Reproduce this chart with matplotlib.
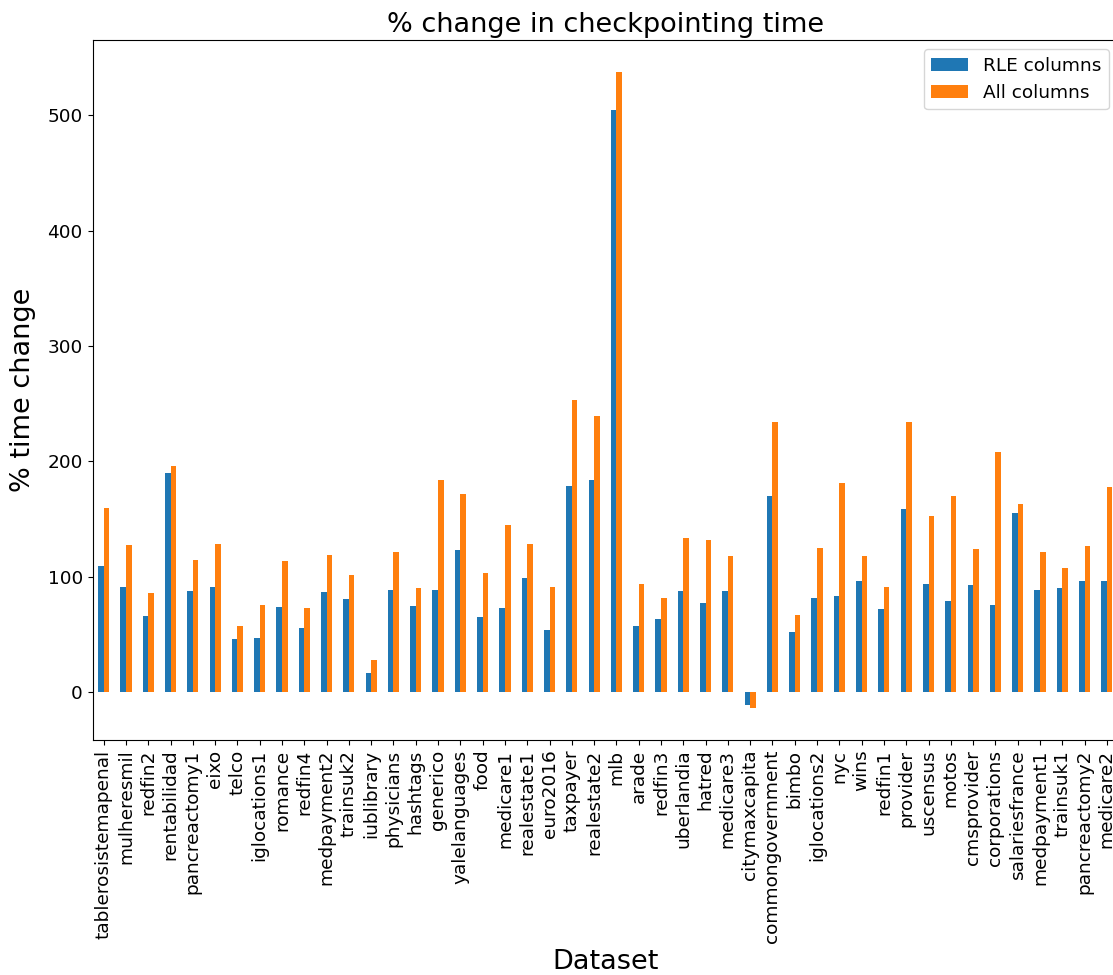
import pandas as pd
import matplotlib
matplotlib.use('Agg')
import matplotlib.pyplot as plt

# Dataset names and % change values
datasets = ['tablerosistemapenal', 'mulheresmil', 'redfin2', 'rentabilidad', 'pancreactomy1',
            'eixo', 'telco', 'iglocations1', 'romance', 'redfin4', 'medpayment2', 'trainsuk2',
            'iublibrary', 'physicians', 'hashtags', 'generico', 'yalelanguages', 'food',
            'medicare1', 'realestate1', 'euro2016', 'taxpayer', 'realestate2', 'mlb', 'arade',
            'redfin3', 'uberlandia', 'hatred', 'medicare3', 'citymaxcapita', 'commongovernment',
            'bimbo', 'iglocations2', 'nyc', 'wins', 'redfin1', 'provider', 'uscensus', 'motos',
            'cmsprovider', 'corporations', 'salariesfrance', 'medpayment1', 'trainsuk1',
            'pancreactomy2', 'medicare2']

rle_columns = [109.8, 90.8, 65.7, 190.2, 87.3, 90.8, 45.8, 46.7, 73.5, 55.3, 86.5, 80.4,
               16.4, 88.2, 74.4, 89.0, 123.6, 64.8, 72.6, 98.6, 53.6, 179.0, 184.1, 504.6,
               57.0, 63.1, 87.3, 77.0, 87.3, -11.2, 170.3, 51.9, 81.3, 83.0, 96.8, 71.8,
               159.0, 93.4, 78.7, 92.5, 75.2, 155.6, 89.0, 89.9, 96.0, 96.8]

all_columns = [160.0, 128.0, 85.6, 196.3, 115.0, 128.8, 57.0, 75.2, 114.0, 72.6, 119.3, 102.0,
               27.7, 121.9, 89.9, 184.1, 172.0, 102.9, 145.2, 128.8, 90.8, 253.5, 239.5, 537.5,
               93.4, 81.3, 134.0, 132.3, 118.4, -13.8, 234.3, 66.6, 125.4, 181.6, 118.4, 90.8,
               234.3, 153.0, 170.3, 124.5, 208.4, 163.4, 121.9, 108.0, 127.1, 178.1]

df = pd.DataFrame({'RLE columns': rle_columns, 'All columns': all_columns}, index=datasets)

fig = plt.figure(figsize=(11.13, 9.75), dpi=100)
# axes runs slightly past the right edge, like the reference
ax = fig.add_axes([92.5 / 1113, 235 / 975, (1118 - 92.5) / 1113, 700 / 975])

df.plot.bar(ax=ax, color=['#1f77b4', '#ff7f0e'])

ax.set_title('% change in checkpointing time', fontsize=19.5)
ax.set_xlabel('Dataset', fontsize=19.5)
ax.set_ylabel('% time change', fontsize=19.5, labelpad=8)
ax.tick_params(axis='both', labelsize=13.3)
ax.legend(fontsize=13.3, loc='upper right')

fig.savefig('out.png', dpi=100)
